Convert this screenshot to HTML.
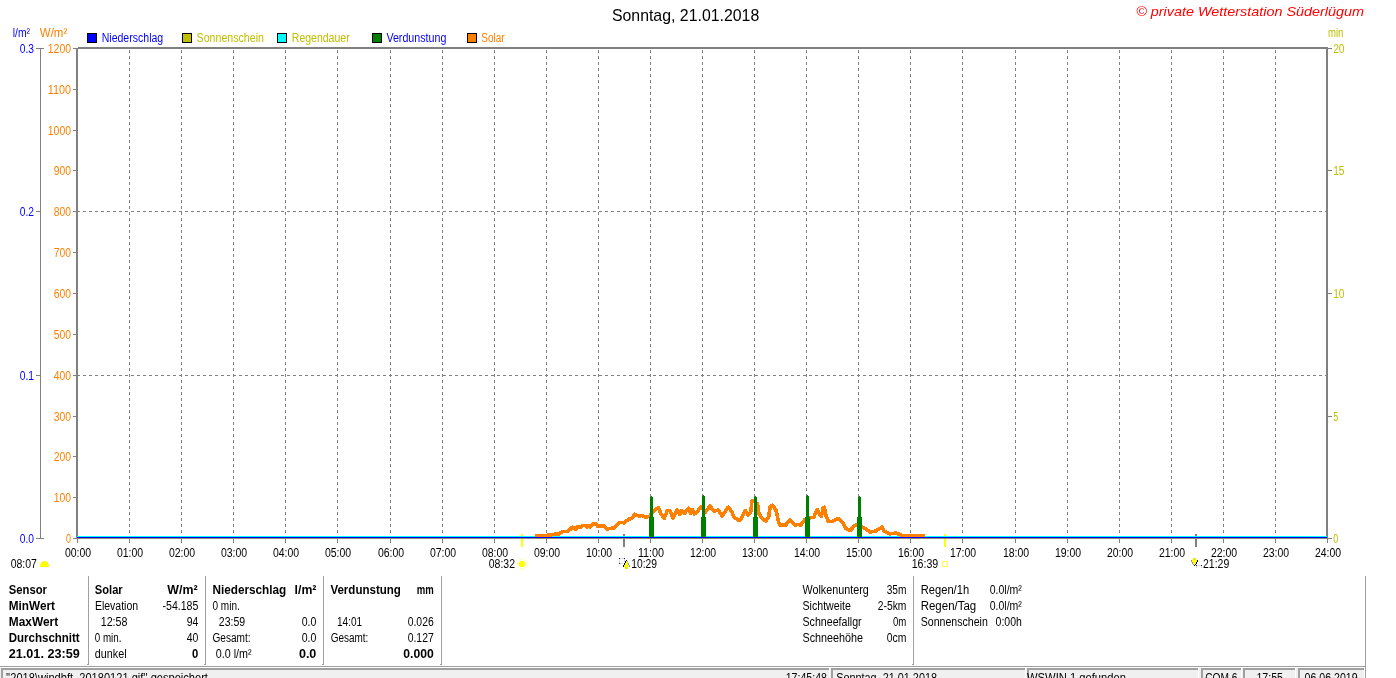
<!DOCTYPE html>
<html><head><meta charset="utf-8"><style>
html,body{margin:0;padding:0;background:#fff;overflow:hidden;}
svg{display:block;font-family:"Liberation Sans",sans-serif;will-change:transform;}
</style></head><body>
<svg width="1396" height="678" viewBox="0 0 1396 678" shape-rendering="crispEdges">
<rect x="0" y="0" width="1396" height="678" fill="#fff"/>
<line x1="129.5" y1="50" x2="129.5" y2="536" stroke="#808080" stroke-width="1" stroke-dasharray="3 3"/>
<line x1="181.5" y1="50" x2="181.5" y2="536" stroke="#808080" stroke-width="1" stroke-dasharray="3 3"/>
<line x1="233.5" y1="50" x2="233.5" y2="536" stroke="#808080" stroke-width="1" stroke-dasharray="3 3"/>
<line x1="285.5" y1="50" x2="285.5" y2="536" stroke="#808080" stroke-width="1" stroke-dasharray="3 3"/>
<line x1="337.5" y1="50" x2="337.5" y2="536" stroke="#808080" stroke-width="1" stroke-dasharray="3 3"/>
<line x1="390.5" y1="50" x2="390.5" y2="536" stroke="#808080" stroke-width="1" stroke-dasharray="3 3"/>
<line x1="442.5" y1="50" x2="442.5" y2="536" stroke="#808080" stroke-width="1" stroke-dasharray="3 3"/>
<line x1="494.5" y1="50" x2="494.5" y2="536" stroke="#808080" stroke-width="1" stroke-dasharray="3 3"/>
<line x1="546.5" y1="50" x2="546.5" y2="536" stroke="#808080" stroke-width="1" stroke-dasharray="3 3"/>
<line x1="598.5" y1="50" x2="598.5" y2="536" stroke="#808080" stroke-width="1" stroke-dasharray="3 3"/>
<line x1="650.5" y1="50" x2="650.5" y2="536" stroke="#808080" stroke-width="1" stroke-dasharray="3 3"/>
<line x1="702.5" y1="50" x2="702.5" y2="536" stroke="#808080" stroke-width="1" stroke-dasharray="3 3"/>
<line x1="754.5" y1="50" x2="754.5" y2="536" stroke="#808080" stroke-width="1" stroke-dasharray="3 3"/>
<line x1="806.5" y1="50" x2="806.5" y2="536" stroke="#808080" stroke-width="1" stroke-dasharray="3 3"/>
<line x1="858.5" y1="50" x2="858.5" y2="536" stroke="#808080" stroke-width="1" stroke-dasharray="3 3"/>
<line x1="910.5" y1="50" x2="910.5" y2="536" stroke="#808080" stroke-width="1" stroke-dasharray="3 3"/>
<line x1="962.5" y1="50" x2="962.5" y2="536" stroke="#808080" stroke-width="1" stroke-dasharray="3 3"/>
<line x1="1015.5" y1="50" x2="1015.5" y2="536" stroke="#808080" stroke-width="1" stroke-dasharray="3 3"/>
<line x1="1067.5" y1="50" x2="1067.5" y2="536" stroke="#808080" stroke-width="1" stroke-dasharray="3 3"/>
<line x1="1119.5" y1="50" x2="1119.5" y2="536" stroke="#808080" stroke-width="1" stroke-dasharray="3 3"/>
<line x1="1171.5" y1="50" x2="1171.5" y2="536" stroke="#808080" stroke-width="1" stroke-dasharray="3 3"/>
<line x1="1223.5" y1="50" x2="1223.5" y2="536" stroke="#808080" stroke-width="1" stroke-dasharray="3 3"/>
<line x1="1275.5" y1="50" x2="1275.5" y2="536" stroke="#808080" stroke-width="1" stroke-dasharray="3 3"/>
<line x1="77" y1="211.5" x2="1327" y2="211.5" stroke="#808080" stroke-width="1" stroke-dasharray="3 3"/>
<line x1="77" y1="375.5" x2="1327" y2="375.5" stroke="#808080" stroke-width="1" stroke-dasharray="3 3"/>
<rect x="78" y="47" width="1250" height="1" fill="#808080"/>
<rect x="76" y="48" width="1252" height="1" fill="#808080"/>
<rect x="76" y="48" width="2" height="491" fill="#808080"/>
<rect x="1326" y="48" width="2" height="491" fill="#808080"/>
<rect x="76" y="537" width="1252" height="2" fill="#808080"/>
<rect x="40" y="48" width="1" height="491" fill="#808080"/>
<rect x="36" y="48" width="8" height="1" fill="#808080"/>
<rect x="36" y="211" width="5" height="1" fill="#808080"/>
<rect x="36" y="375" width="5" height="1" fill="#808080"/>
<rect x="36" y="538" width="8" height="1" fill="#808080"/>
<rect x="73" y="538" width="4" height="1" fill="#808080"/>
<rect x="73" y="497" width="4" height="1" fill="#808080"/>
<rect x="73" y="456" width="4" height="1" fill="#808080"/>
<rect x="73" y="416" width="4" height="1" fill="#808080"/>
<rect x="73" y="375" width="4" height="1" fill="#808080"/>
<rect x="73" y="334" width="4" height="1" fill="#808080"/>
<rect x="73" y="293" width="4" height="1" fill="#808080"/>
<rect x="73" y="252" width="4" height="1" fill="#808080"/>
<rect x="73" y="211" width="4" height="1" fill="#808080"/>
<rect x="73" y="170" width="4" height="1" fill="#808080"/>
<rect x="73" y="130" width="4" height="1" fill="#808080"/>
<rect x="73" y="89" width="4" height="1" fill="#808080"/>
<rect x="73" y="48" width="4" height="1" fill="#808080"/>
<rect x="1327" y="538" width="5" height="1" fill="#808080"/>
<rect x="1327" y="416" width="5" height="1" fill="#808080"/>
<rect x="1327" y="293" width="5" height="1" fill="#808080"/>
<rect x="1327" y="170" width="5" height="1" fill="#808080"/>
<rect x="1327" y="48" width="5" height="1" fill="#808080"/>
<rect x="77" y="539" width="1" height="4" fill="#808080"/>
<rect x="129" y="539" width="1" height="4" fill="#808080"/>
<rect x="181" y="539" width="1" height="4" fill="#808080"/>
<rect x="233" y="539" width="1" height="4" fill="#808080"/>
<rect x="285" y="539" width="1" height="4" fill="#808080"/>
<rect x="337" y="539" width="1" height="4" fill="#808080"/>
<rect x="390" y="539" width="1" height="4" fill="#808080"/>
<rect x="442" y="539" width="1" height="4" fill="#808080"/>
<rect x="494" y="539" width="1" height="4" fill="#808080"/>
<rect x="546" y="539" width="1" height="4" fill="#808080"/>
<rect x="598" y="539" width="1" height="4" fill="#808080"/>
<rect x="650" y="539" width="1" height="4" fill="#808080"/>
<rect x="702" y="539" width="1" height="4" fill="#808080"/>
<rect x="754" y="539" width="1" height="4" fill="#808080"/>
<rect x="806" y="539" width="1" height="4" fill="#808080"/>
<rect x="858" y="539" width="1" height="4" fill="#808080"/>
<rect x="910" y="539" width="1" height="4" fill="#808080"/>
<rect x="962" y="539" width="1" height="4" fill="#808080"/>
<rect x="1015" y="539" width="1" height="4" fill="#808080"/>
<rect x="1067" y="539" width="1" height="4" fill="#808080"/>
<rect x="1119" y="539" width="1" height="4" fill="#808080"/>
<rect x="1171" y="539" width="1" height="4" fill="#808080"/>
<rect x="1223" y="539" width="1" height="4" fill="#808080"/>
<rect x="1275" y="539" width="1" height="4" fill="#808080"/>
<rect x="1327" y="539" width="1" height="4" fill="#808080"/>
<text x="12.70" y="37" font-size="12" fill="#0000ff" font-weight="normal" textLength="17.29" lengthAdjust="spacingAndGlyphs">l/m&#178;</text>
<text x="39.80" y="37" font-size="12" fill="#ff8000" font-weight="normal" textLength="27.46" lengthAdjust="spacingAndGlyphs">W/m&#178;</text>
<text x="19.80" y="53" font-size="12" fill="#0000ff" font-weight="normal" textLength="14.28" lengthAdjust="spacingAndGlyphs">0.3</text>
<text x="19.80" y="216" font-size="12" fill="#0000ff" font-weight="normal" textLength="14.28" lengthAdjust="spacingAndGlyphs">0.2</text>
<text x="19.80" y="380" font-size="12" fill="#0000ff" font-weight="normal" textLength="14.28" lengthAdjust="spacingAndGlyphs">0.1</text>
<text x="19.80" y="543" font-size="12" fill="#0000ff" font-weight="normal" textLength="14.28" lengthAdjust="spacingAndGlyphs">0.0</text>
<text x="66.10" y="543" font-size="12" fill="#ff8000" font-weight="normal" textLength="4.98" lengthAdjust="spacingAndGlyphs">0</text>
<text x="53.80" y="502" font-size="12" fill="#ff8000" font-weight="normal" textLength="17.32" lengthAdjust="spacingAndGlyphs">100</text>
<text x="53.80" y="461" font-size="12" fill="#ff8000" font-weight="normal" textLength="17.32" lengthAdjust="spacingAndGlyphs">200</text>
<text x="53.80" y="421" font-size="12" fill="#ff8000" font-weight="normal" textLength="17.32" lengthAdjust="spacingAndGlyphs">300</text>
<text x="53.80" y="380" font-size="12" fill="#ff8000" font-weight="normal" textLength="17.32" lengthAdjust="spacingAndGlyphs">400</text>
<text x="53.80" y="339" font-size="12" fill="#ff8000" font-weight="normal" textLength="17.32" lengthAdjust="spacingAndGlyphs">500</text>
<text x="53.80" y="298" font-size="12" fill="#ff8000" font-weight="normal" textLength="17.32" lengthAdjust="spacingAndGlyphs">600</text>
<text x="53.80" y="257" font-size="12" fill="#ff8000" font-weight="normal" textLength="17.32" lengthAdjust="spacingAndGlyphs">700</text>
<text x="53.80" y="216" font-size="12" fill="#ff8000" font-weight="normal" textLength="17.32" lengthAdjust="spacingAndGlyphs">800</text>
<text x="53.80" y="175" font-size="12" fill="#ff8000" font-weight="normal" textLength="17.32" lengthAdjust="spacingAndGlyphs">900</text>
<text x="47.80" y="135" font-size="12" fill="#ff8000" font-weight="normal" textLength="23.29" lengthAdjust="spacingAndGlyphs">1000</text>
<text x="47.80" y="94" font-size="12" fill="#ff8000" font-weight="normal" textLength="23.30" lengthAdjust="spacingAndGlyphs">1100</text>
<text x="47.80" y="53" font-size="12" fill="#ff8000" font-weight="normal" textLength="23.29" lengthAdjust="spacingAndGlyphs">1200</text>
<text x="1333.20" y="543" font-size="12" fill="#c0c000" font-weight="normal" textLength="4.98" lengthAdjust="spacingAndGlyphs">0</text>
<text x="1333.20" y="421" font-size="12" fill="#c0c000" font-weight="normal" textLength="4.98" lengthAdjust="spacingAndGlyphs">5</text>
<text x="1333.20" y="298" font-size="12" fill="#c0c000" font-weight="normal" textLength="11.34" lengthAdjust="spacingAndGlyphs">10</text>
<text x="1333.20" y="175" font-size="12" fill="#c0c000" font-weight="normal" textLength="11.34" lengthAdjust="spacingAndGlyphs">15</text>
<text x="1333.20" y="53" font-size="12" fill="#c0c000" font-weight="normal" textLength="11.34" lengthAdjust="spacingAndGlyphs">20</text>
<text x="1328.00" y="37" font-size="12" fill="#c0c000" font-weight="normal" textLength="15.43" lengthAdjust="spacingAndGlyphs">min</text>
<text x="64.90" y="557" font-size="12" fill="#000" font-weight="normal" textLength="26.22" lengthAdjust="spacingAndGlyphs">00:00</text>
<text x="116.90" y="557" font-size="12" fill="#000" font-weight="normal" textLength="26.22" lengthAdjust="spacingAndGlyphs">01:00</text>
<text x="168.90" y="557" font-size="12" fill="#000" font-weight="normal" textLength="26.22" lengthAdjust="spacingAndGlyphs">02:00</text>
<text x="220.90" y="557" font-size="12" fill="#000" font-weight="normal" textLength="26.22" lengthAdjust="spacingAndGlyphs">03:00</text>
<text x="272.90" y="557" font-size="12" fill="#000" font-weight="normal" textLength="26.22" lengthAdjust="spacingAndGlyphs">04:00</text>
<text x="324.90" y="557" font-size="12" fill="#000" font-weight="normal" textLength="26.22" lengthAdjust="spacingAndGlyphs">05:00</text>
<text x="377.90" y="557" font-size="12" fill="#000" font-weight="normal" textLength="26.22" lengthAdjust="spacingAndGlyphs">06:00</text>
<text x="429.90" y="557" font-size="12" fill="#000" font-weight="normal" textLength="26.22" lengthAdjust="spacingAndGlyphs">07:00</text>
<text x="481.90" y="557" font-size="12" fill="#000" font-weight="normal" textLength="26.22" lengthAdjust="spacingAndGlyphs">08:00</text>
<text x="533.90" y="557" font-size="12" fill="#000" font-weight="normal" textLength="26.22" lengthAdjust="spacingAndGlyphs">09:00</text>
<text x="585.90" y="557" font-size="12" fill="#000" font-weight="normal" textLength="26.22" lengthAdjust="spacingAndGlyphs">10:00</text>
<text x="637.90" y="557" font-size="12" fill="#000" font-weight="normal" textLength="26.23" lengthAdjust="spacingAndGlyphs">11:00</text>
<text x="689.90" y="557" font-size="12" fill="#000" font-weight="normal" textLength="26.22" lengthAdjust="spacingAndGlyphs">12:00</text>
<text x="741.90" y="557" font-size="12" fill="#000" font-weight="normal" textLength="26.22" lengthAdjust="spacingAndGlyphs">13:00</text>
<text x="793.90" y="557" font-size="12" fill="#000" font-weight="normal" textLength="26.22" lengthAdjust="spacingAndGlyphs">14:00</text>
<text x="845.90" y="557" font-size="12" fill="#000" font-weight="normal" textLength="26.22" lengthAdjust="spacingAndGlyphs">15:00</text>
<text x="897.90" y="557" font-size="12" fill="#000" font-weight="normal" textLength="26.22" lengthAdjust="spacingAndGlyphs">16:00</text>
<text x="949.90" y="557" font-size="12" fill="#000" font-weight="normal" textLength="26.22" lengthAdjust="spacingAndGlyphs">17:00</text>
<text x="1002.90" y="557" font-size="12" fill="#000" font-weight="normal" textLength="26.22" lengthAdjust="spacingAndGlyphs">18:00</text>
<text x="1054.90" y="557" font-size="12" fill="#000" font-weight="normal" textLength="26.22" lengthAdjust="spacingAndGlyphs">19:00</text>
<text x="1106.90" y="557" font-size="12" fill="#000" font-weight="normal" textLength="26.22" lengthAdjust="spacingAndGlyphs">20:00</text>
<text x="1158.90" y="557" font-size="12" fill="#000" font-weight="normal" textLength="26.22" lengthAdjust="spacingAndGlyphs">21:00</text>
<text x="1210.90" y="557" font-size="12" fill="#000" font-weight="normal" textLength="26.22" lengthAdjust="spacingAndGlyphs">22:00</text>
<text x="1262.90" y="557" font-size="12" fill="#000" font-weight="normal" textLength="26.22" lengthAdjust="spacingAndGlyphs">23:00</text>
<text x="1314.90" y="557" font-size="12" fill="#000" font-weight="normal" textLength="26.22" lengthAdjust="spacingAndGlyphs">24:00</text>
<rect x="87.5" y="33.5" width="9" height="9" fill="#0000ff" stroke="#000" stroke-width="1"/>
<text x="101.70" y="42" font-size="12" fill="#0000ff" font-weight="normal" textLength="61.53" lengthAdjust="spacingAndGlyphs">Niederschlag</text>
<rect x="182.5" y="33.5" width="9" height="9" fill="#c0c000" stroke="#000" stroke-width="1"/>
<text x="196.60" y="42" font-size="12" fill="#c0c000" font-weight="normal" textLength="67.36" lengthAdjust="spacingAndGlyphs">Sonnenschein</text>
<rect x="277.5" y="33.5" width="9" height="9" fill="#00ffff" stroke="#000" stroke-width="1"/>
<text x="291.80" y="42" font-size="12" fill="#c0c000" font-weight="normal" textLength="57.86" lengthAdjust="spacingAndGlyphs">Regendauer</text>
<rect x="372.5" y="33.5" width="9" height="9" fill="#008000" stroke="#000" stroke-width="1"/>
<text x="386.40" y="42" font-size="12" fill="#0000ff" font-weight="normal" textLength="59.99" lengthAdjust="spacingAndGlyphs">Verdunstung</text>
<rect x="467.5" y="33.5" width="9" height="9" fill="#ff8000" stroke="#000" stroke-width="1"/>
<text x="481.30" y="42" font-size="12" fill="#ff8000" font-weight="normal" textLength="23.31" lengthAdjust="spacingAndGlyphs">Solar</text>
<text x="611.90" y="21" font-size="17" fill="#000" font-weight="normal" textLength="147.37" lengthAdjust="spacingAndGlyphs">Sonntag, 21.01.2018</text>
<text x="1136.20" y="16" font-size="13" fill="#ff0000" font-weight="normal" textLength="227.78" lengthAdjust="spacingAndGlyphs" font-style="italic">&#169; private Wetterstation S&#252;derl&#252;gum</text>
<rect x="521" y="534" width="2" height="13" fill="#ffff00"/>
<rect x="944" y="534" width="2" height="13" fill="#ffff00"/>
<rect x="623" y="534" width="2" height="13" fill="#808080"/>
<rect x="1195" y="534" width="2" height="13" fill="#808080"/>
<text x="10.70" y="568" font-size="12" fill="#000" font-weight="normal" textLength="26.22" lengthAdjust="spacingAndGlyphs">08:07</text>
<rect x="43" y="561" width="3" height="1" fill="#ffff00"/>
<rect x="41" y="562" width="7" height="2" fill="#ffff00"/>
<rect x="40" y="564" width="9" height="3" fill="#ffff00"/>
<text x="488.80" y="568" font-size="12" fill="#000" font-weight="normal" textLength="26.22" lengthAdjust="spacingAndGlyphs">08:32</text>
<rect x="518" y="560" width="1" height="1" fill="#ffffa0"/>
<rect x="526" y="560" width="1" height="1" fill="#ffffa0"/>
<rect x="518" y="567" width="1" height="1" fill="#ffffa0"/>
<rect x="526" y="567" width="1" height="1" fill="#ffffa0"/>
<rect x="522" y="558" width="1" height="1" fill="#ffffa0"/>
<rect x="522" y="569" width="1" height="1" fill="#ffffa0"/>
<rect x="527" y="564" width="1" height="1" fill="#ffffa0"/>
<circle cx="522" cy="564" r="4.6" fill="none" stroke="#ffffc8" stroke-width="1.2" shape-rendering="auto"/>
<rect x="520" y="561" width="4" height="6" fill="#ffff00"/>
<rect x="519" y="562" width="6" height="4" fill="#ffff00"/>
<text x="631.20" y="568" font-size="12" fill="#000" font-weight="normal" textLength="25.82" lengthAdjust="spacingAndGlyphs">10:29</text>
<rect x="619" y="558" width="1" height="1" fill="#202090"/>
<rect x="624" y="558" width="1" height="1" fill="#202090"/>
<rect x="619" y="563" width="1" height="1" fill="#202090"/>
<rect x="620" y="558" width="1" height="1" fill="#d8d8ec"/>
<rect x="621" y="558" width="1" height="1" fill="#d8d8ec"/>
<rect x="622" y="558" width="1" height="1" fill="#d8d8ec"/>
<rect x="623" y="558" width="1" height="1" fill="#d8d8ec"/>
<rect x="619" y="559" width="1" height="1" fill="#d8d8ec"/>
<rect x="619" y="560" width="1" height="1" fill="#d8d8ec"/>
<rect x="619" y="561" width="1" height="1" fill="#d8d8ec"/>
<rect x="619" y="562" width="1" height="1" fill="#d8d8ec"/>
<rect x="624" y="559" width="1" height="1" fill="#d8d8ec"/>
<rect x="624" y="560" width="1" height="1" fill="#d8d8ec"/>
<rect x="624" y="561" width="1" height="1" fill="#d8d8ec"/>
<rect x="620" y="563" width="1" height="1" fill="#d8d8ec"/>
<rect x="621" y="563" width="1" height="1" fill="#d8d8ec"/>
<rect x="622" y="563" width="1" height="1" fill="#d8d8ec"/>
<rect x="626" y="560" width="1" height="1" fill="#000"/>
<rect x="625" y="561" width="1" height="1" fill="#000"/>
<rect x="625" y="562" width="1" height="1" fill="#000"/>
<rect x="624" y="563" width="1" height="1" fill="#000"/>
<rect x="624" y="564" width="1" height="1" fill="#000"/>
<rect x="623" y="565" width="1" height="1" fill="#000"/>
<rect x="623" y="566" width="1" height="1" fill="#000"/>
<rect x="626" y="561" width="1" height="1" fill="#ffff00"/>
<rect x="626" y="562" width="2" height="1" fill="#ffff00"/>
<rect x="625" y="563" width="3" height="2" fill="#ffff00"/>
<rect x="624" y="565" width="5" height="2" fill="#ffff00"/>
<rect x="625" y="567" width="3" height="2" fill="#e8e800"/>
<rect x="627" y="561" width="1" height="1" fill="#8888ff"/>
<rect x="628" y="563" width="1" height="1" fill="#8888ff"/>
<rect x="628" y="564" width="1" height="1" fill="#8888ff"/>
<rect x="629" y="565" width="1" height="1" fill="#8888ff"/>
<rect x="629" y="566" width="1" height="1" fill="#8888ff"/>
<text x="911.70" y="568" font-size="12" fill="#000" font-weight="normal" textLength="26.52" lengthAdjust="spacingAndGlyphs">16:39</text>
<rect x="942.5" y="561.5" width="5" height="5" fill="none" stroke="#ffff50" stroke-width="1"/>
<text x="1203.00" y="568" font-size="12" fill="#000" font-weight="normal" textLength="26.22" lengthAdjust="spacingAndGlyphs">21:29</text>
<rect x="1193" y="558" width="3" height="2" fill="#e8e800"/>
<rect x="1192" y="560" width="5" height="2" fill="#ffff00"/>
<rect x="1193" y="562" width="3" height="2" fill="#ffff00"/>
<rect x="1194" y="564" width="1" height="1" fill="#ffff00"/>
<rect x="1197" y="560" width="1" height="1" fill="#000"/>
<rect x="1197" y="561" width="1" height="1" fill="#000"/>
<rect x="1196" y="562" width="1" height="1" fill="#000"/>
<rect x="1196" y="563" width="1" height="1" fill="#000"/>
<rect x="1195" y="564" width="1" height="1" fill="#000"/>
<rect x="1194" y="565" width="1" height="1" fill="#000"/>
<rect x="1191" y="560" width="1" height="1" fill="#8888ff"/>
<rect x="1191" y="561" width="1" height="1" fill="#8888ff"/>
<rect x="1192" y="562" width="1" height="1" fill="#8888ff"/>
<rect x="1192" y="563" width="1" height="1" fill="#8888ff"/>
<rect x="1193" y="564" width="1" height="1" fill="#8888ff"/>
<rect x="1196" y="565" width="1" height="1" fill="#202090"/>
<rect x="1201" y="565" width="1" height="1" fill="#202090"/>
<rect x="1197" y="565" width="1" height="1" fill="#d8d8ec"/>
<rect x="1198" y="565" width="1" height="1" fill="#d8d8ec"/>
<rect x="1199" y="565" width="1" height="1" fill="#d8d8ec"/>
<rect x="1200" y="565" width="1" height="1" fill="#d8d8ec"/>
<rect x="1196" y="566" width="1" height="1" fill="#d8d8ec"/>
<rect x="1201" y="566" width="1" height="1" fill="#d8d8ec"/>
<rect x="1196" y="567" width="1" height="1" fill="#d8d8ec"/>
<rect x="1201" y="567" width="1" height="1" fill="#d8d8ec"/>
<rect x="77" y="536" width="1250" height="1" fill="#00ffff"/>
<path d="M535.3,536.2 L545,535.6 L554,534.5 L556,533.5 L558,534.5 L560.5,533 L563,531.3 L567.6,531.3 L570,529.5 L572.5,527 L575.6,529.5 L577,527 L581.5,527 L582.4,525.5 L585.5,525.5 L586.8,527 L588,525.7 L589.5,525.7 L590.4,527 L593.5,523.7 L596.1,523.7 L597.5,526.4 L599.2,525.7 L601,525.7 L602.1,526.1 L603.7,525.7 L607.2,529.2 L609,528.6 L611.6,528.6 L612.5,527.7 L614.7,527.7 L616,525.7 L620,522.6 L622.2,522.6 L624.5,523 L626.7,520.6 L628.8,519.1 L631.8,518.4 L634.7,514.3 L639.2,516.2 L642.1,515.4 L645,517.3 L649.5,516.2 L654.7,509.9 L658.3,507.7 L661.3,514.3 L664.2,518.4 L667.2,510.6 L670.1,510.6 L673.1,518.4 L676.8,509.9 L679.7,514.3 L681.2,510.3 L684.2,513.6 L688.6,508.4 L690.8,513.6 L692.3,509.5 L694.5,514 L698.2,510.6 L701.1,506.6 L705.5,512.1 L710,506.2 L714.4,511.4 L718.1,509.9 L720,512.5 L722.2,515.8 L728.1,507.3 L731.8,511.4 L734,517.3 L739.2,520.6 L742.1,517.3 L745.4,510.6 L748,515.1 L751,511.4 L751.7,501.1 L753.2,500.3 L757.6,504 L759.1,514.3 L762.8,518.8 L765.7,521 L768.7,516.5 L770.1,507 L772.4,505.1 L776,509.9 L778.3,521 L779.7,525 L785.6,525 L790,520.2 L795.2,525 L798.2,524.3 L800.4,525.4 L804.8,519.5 L810.7,517.7 L813.7,517.3 L817.3,509.5 L820,515.1 L821.5,516.5 L823,508.4 L824.4,507.3 L825.9,515.1 L828.1,521 L831.8,521.7 L834.7,520.2 L838.4,518.4 L842.9,522.4 L845.8,528.3 L850.2,530.6 L854.7,525.4 L856.9,525 L862,527.2 L865.7,529.1 L870.1,532 L876,530.9 L882,527.2 L884.2,530.9 L889.3,533.9 L896,533.1 L901.1,535 L904.8,536 L925,536.2" fill="none" stroke="#ff8000" stroke-width="3.6" stroke-linejoin="round"/>
<rect x="650" y="497" width="3" height="20" fill="#008000"/>
<rect x="651" y="496" width="1" height="1" fill="#008000"/>
<rect x="649" y="517" width="5" height="20" fill="#008000"/>
<rect x="702" y="496" width="3" height="21" fill="#008000"/>
<rect x="703" y="495" width="1" height="1" fill="#008000"/>
<rect x="701" y="517" width="5" height="20" fill="#008000"/>
<rect x="754" y="497" width="3" height="20" fill="#008000"/>
<rect x="755" y="496" width="1" height="1" fill="#008000"/>
<rect x="753" y="517" width="5" height="20" fill="#008000"/>
<rect x="806" y="496" width="3" height="21" fill="#008000"/>
<rect x="807" y="495" width="1" height="1" fill="#008000"/>
<rect x="805" y="517" width="5" height="20" fill="#008000"/>
<rect x="858" y="497" width="3" height="20" fill="#008000"/>
<rect x="859" y="496" width="1" height="1" fill="#008000"/>
<rect x="857" y="517" width="5" height="20" fill="#008000"/>
<rect x="77" y="537" width="1250" height="1" fill="#0000ff"/>
<rect x="77" y="538" width="1250" height="1" fill="#8c8c70"/>
<rect x="88" y="576" width="1" height="89" fill="#a0a0a0"/>
<rect x="87" y="664" width="1" height="1" fill="#a0a0a0"/>
<rect x="205" y="576" width="1" height="89" fill="#a0a0a0"/>
<rect x="204" y="664" width="1" height="1" fill="#a0a0a0"/>
<rect x="323" y="576" width="1" height="89" fill="#a0a0a0"/>
<rect x="322" y="664" width="1" height="1" fill="#a0a0a0"/>
<rect x="441" y="576" width="1" height="89" fill="#a0a0a0"/>
<rect x="440" y="664" width="1" height="1" fill="#a0a0a0"/>
<rect x="913" y="576" width="1" height="89" fill="#a0a0a0"/>
<rect x="912" y="664" width="1" height="1" fill="#a0a0a0"/>
<text x="8.80" y="594" font-size="12" fill="#000" font-weight="bold" textLength="38.18" lengthAdjust="spacingAndGlyphs">Sensor</text>
<text x="8.80" y="610" font-size="12" fill="#000" font-weight="bold" textLength="46.21" lengthAdjust="spacingAndGlyphs">MinWert</text>
<text x="8.80" y="626" font-size="12" fill="#000" font-weight="bold" textLength="49.29" lengthAdjust="spacingAndGlyphs">MaxWert</text>
<text x="8.80" y="642" font-size="12" fill="#000" font-weight="bold" textLength="70.90" lengthAdjust="spacingAndGlyphs">Durchschnitt</text>
<text x="8.80" y="658" font-size="12" fill="#000" font-weight="bold" textLength="70.89" lengthAdjust="spacingAndGlyphs">21.01. 23:59</text>
<text x="94.80" y="594" font-size="12" fill="#000" font-weight="bold" textLength="27.91" lengthAdjust="spacingAndGlyphs">Solar</text>
<text x="167.30" y="594" font-size="12" fill="#000" font-weight="bold" textLength="30.23" lengthAdjust="spacingAndGlyphs">W/m&#178;</text>
<text x="94.90" y="610" font-size="12" fill="#000" font-weight="normal" textLength="43.27" lengthAdjust="spacingAndGlyphs">Elevation</text>
<text x="162.50" y="610" font-size="12" fill="#000" font-weight="normal" textLength="35.80" lengthAdjust="spacingAndGlyphs">-54.185</text>
<text x="100.70" y="626" font-size="12" fill="#000" font-weight="normal" textLength="26.73" lengthAdjust="spacingAndGlyphs">12:58</text>
<text x="186.70" y="626" font-size="12" fill="#000" font-weight="normal" textLength="11.64" lengthAdjust="spacingAndGlyphs">94</text>
<text x="94.80" y="642" font-size="12" fill="#000" font-weight="normal" textLength="26.58" lengthAdjust="spacingAndGlyphs">0 min.</text>
<text x="186.70" y="642" font-size="12" fill="#000" font-weight="normal" textLength="11.64" lengthAdjust="spacingAndGlyphs">40</text>
<text x="94.80" y="658" font-size="12" fill="#000" font-weight="normal" textLength="31.86" lengthAdjust="spacingAndGlyphs">dunkel</text>
<text x="192.00" y="658" font-size="12" fill="#000" font-weight="bold" textLength="6.28" lengthAdjust="spacingAndGlyphs">0</text>
<text x="212.50" y="594" font-size="12" fill="#000" font-weight="bold" textLength="73.76" lengthAdjust="spacingAndGlyphs">Niederschlag</text>
<text x="294.60" y="594" font-size="12" fill="#000" font-weight="bold" textLength="21.84" lengthAdjust="spacingAndGlyphs">l/m&#178;</text>
<text x="212.50" y="610" font-size="12" fill="#000" font-weight="normal" textLength="27.28" lengthAdjust="spacingAndGlyphs">0 min.</text>
<text x="218.80" y="626" font-size="12" fill="#000" font-weight="normal" textLength="26.32" lengthAdjust="spacingAndGlyphs">23:59</text>
<text x="301.70" y="626" font-size="12" fill="#000" font-weight="normal" textLength="14.68" lengthAdjust="spacingAndGlyphs">0.0</text>
<text x="212.50" y="642" font-size="12" fill="#000" font-weight="normal" textLength="38.04" lengthAdjust="spacingAndGlyphs">Gesamt:</text>
<text x="301.70" y="642" font-size="12" fill="#000" font-weight="normal" textLength="14.68" lengthAdjust="spacingAndGlyphs">0.0</text>
<text x="215.80" y="658" font-size="12" fill="#000" font-weight="normal" textLength="35.81" lengthAdjust="spacingAndGlyphs">0.0 l/m&#178;</text>
<text x="298.90" y="658" font-size="12" fill="#000" font-weight="bold" textLength="17.48" lengthAdjust="spacingAndGlyphs">0.0</text>
<text x="330.40" y="594" font-size="12" fill="#000" font-weight="bold" textLength="70.53" lengthAdjust="spacingAndGlyphs">Verdunstung</text>
<text x="416.70" y="594" font-size="12" fill="#000" font-weight="bold" textLength="17.03" lengthAdjust="spacingAndGlyphs">mm</text>
<text x="337.00" y="626" font-size="12" fill="#000" font-weight="normal" textLength="25.12" lengthAdjust="spacingAndGlyphs">14:01</text>
<text x="407.70" y="626" font-size="12" fill="#000" font-weight="normal" textLength="26.02" lengthAdjust="spacingAndGlyphs">0.026</text>
<text x="330.70" y="642" font-size="12" fill="#000" font-weight="normal" textLength="37.64" lengthAdjust="spacingAndGlyphs">Gesamt:</text>
<text x="407.70" y="642" font-size="12" fill="#000" font-weight="normal" textLength="26.02" lengthAdjust="spacingAndGlyphs">0.127</text>
<text x="403.30" y="658" font-size="12" fill="#000" font-weight="bold" textLength="30.43" lengthAdjust="spacingAndGlyphs">0.000</text>
<text x="802.50" y="594" font-size="12" fill="#000" font-weight="normal" textLength="66.32" lengthAdjust="spacingAndGlyphs">Wolkenunterg</text>
<text x="886.70" y="594" font-size="12" fill="#000" font-weight="normal" textLength="19.74" lengthAdjust="spacingAndGlyphs">35m</text>
<text x="802.50" y="610" font-size="12" fill="#000" font-weight="normal" textLength="48.39" lengthAdjust="spacingAndGlyphs">Sichtweite</text>
<text x="877.80" y="610" font-size="12" fill="#000" font-weight="normal" textLength="28.63" lengthAdjust="spacingAndGlyphs">2-5km</text>
<text x="802.50" y="626" font-size="12" fill="#000" font-weight="normal" textLength="59.11" lengthAdjust="spacingAndGlyphs">Schneefallgr</text>
<text x="893.00" y="626" font-size="12" fill="#000" font-weight="normal" textLength="13.38" lengthAdjust="spacingAndGlyphs">0m</text>
<text x="802.50" y="642" font-size="12" fill="#000" font-weight="normal" textLength="60.49" lengthAdjust="spacingAndGlyphs">Schneeh&#246;he</text>
<text x="886.70" y="642" font-size="12" fill="#000" font-weight="normal" textLength="19.67" lengthAdjust="spacingAndGlyphs">0cm</text>
<text x="920.70" y="594" font-size="12" fill="#000" font-weight="normal" textLength="48.44" lengthAdjust="spacingAndGlyphs">Regen/1h</text>
<text x="989.70" y="594" font-size="12" fill="#000" font-weight="normal" textLength="32.18" lengthAdjust="spacingAndGlyphs">0.0l/m&#178;</text>
<text x="920.70" y="610" font-size="12" fill="#000" font-weight="normal" textLength="55.54" lengthAdjust="spacingAndGlyphs">Regen/Tag</text>
<text x="989.70" y="610" font-size="12" fill="#000" font-weight="normal" textLength="32.18" lengthAdjust="spacingAndGlyphs">0.0l/m&#178;</text>
<text x="920.70" y="626" font-size="12" fill="#000" font-weight="normal" textLength="67.16" lengthAdjust="spacingAndGlyphs">Sonnenschein</text>
<text x="995.60" y="626" font-size="12" fill="#000" font-weight="normal" textLength="26.32" lengthAdjust="spacingAndGlyphs">0:00h</text>
<rect x="0" y="666" width="1396" height="12" fill="#f0f0f0"/>
<rect x="0" y="666" width="1366" height="1" fill="#a0a0a0"/>
<rect x="0" y="667" width="1366" height="1" fill="#ffffff"/>
<rect x="1366" y="576" width="30" height="102" fill="#ffffff"/>
<rect x="1" y="668" width="829" height="10" fill="#f0f0f0"/>
<rect x="1" y="668" width="829" height="2" fill="#a0a0a0"/>
<rect x="1" y="668" width="2" height="10" fill="#a0a0a0"/>
<rect x="829" y="668" width="1" height="10" fill="#ffffff"/>
<rect x="831" y="668" width="195" height="10" fill="#f0f0f0"/>
<rect x="831" y="668" width="195" height="2" fill="#a0a0a0"/>
<rect x="831" y="668" width="2" height="10" fill="#a0a0a0"/>
<rect x="1025" y="668" width="1" height="10" fill="#ffffff"/>
<rect x="1027" y="668" width="172" height="10" fill="#f0f0f0"/>
<rect x="1027" y="668" width="172" height="2" fill="#a0a0a0"/>
<rect x="1027" y="668" width="2" height="10" fill="#a0a0a0"/>
<rect x="1198" y="668" width="1" height="10" fill="#ffffff"/>
<rect x="1201" y="668" width="41" height="10" fill="#f0f0f0"/>
<rect x="1201" y="668" width="41" height="2" fill="#a0a0a0"/>
<rect x="1201" y="668" width="2" height="10" fill="#a0a0a0"/>
<rect x="1241" y="668" width="1" height="10" fill="#ffffff"/>
<rect x="1243" y="668" width="53" height="10" fill="#f0f0f0"/>
<rect x="1243" y="668" width="53" height="2" fill="#a0a0a0"/>
<rect x="1243" y="668" width="2" height="10" fill="#a0a0a0"/>
<rect x="1295" y="668" width="1" height="10" fill="#ffffff"/>
<rect x="1298" y="668" width="67" height="10" fill="#f0f0f0"/>
<rect x="1298" y="668" width="67" height="2" fill="#a0a0a0"/>
<rect x="1298" y="668" width="2" height="10" fill="#a0a0a0"/>
<rect x="1364" y="668" width="1" height="10" fill="#ffffff"/>
<text x="6.00" y="682" font-size="12" fill="#000" font-weight="normal" textLength="201.96" lengthAdjust="spacingAndGlyphs">''2018\windbft_20180121.gif'' gespeichert</text>
<text x="785.70" y="682" font-size="12" fill="#000" font-weight="normal" textLength="41.31" lengthAdjust="spacingAndGlyphs">17:45:48</text>
<text x="836.20" y="682" font-size="12" fill="#000" font-weight="normal" textLength="100.83" lengthAdjust="spacingAndGlyphs">Sonntag, 21.01.2018</text>
<text x="1027.00" y="682" font-size="12" fill="#000" font-weight="normal" textLength="99.05" lengthAdjust="spacingAndGlyphs">WSWIN 1 gefunden</text>
<text x="1205.30" y="682" font-size="12" fill="#000" font-weight="normal" textLength="32.10" lengthAdjust="spacingAndGlyphs">COM 6</text>
<text x="1256.40" y="682" font-size="12" fill="#000" font-weight="normal" textLength="26.62" lengthAdjust="spacingAndGlyphs">17:55</text>
<text x="1304.60" y="682" font-size="12" fill="#000" font-weight="normal" textLength="53.06" lengthAdjust="spacingAndGlyphs">06.06.2019</text>
<rect x="1365" y="576" width="1" height="102" fill="#a0a0a0"/>
</svg></body></html>
